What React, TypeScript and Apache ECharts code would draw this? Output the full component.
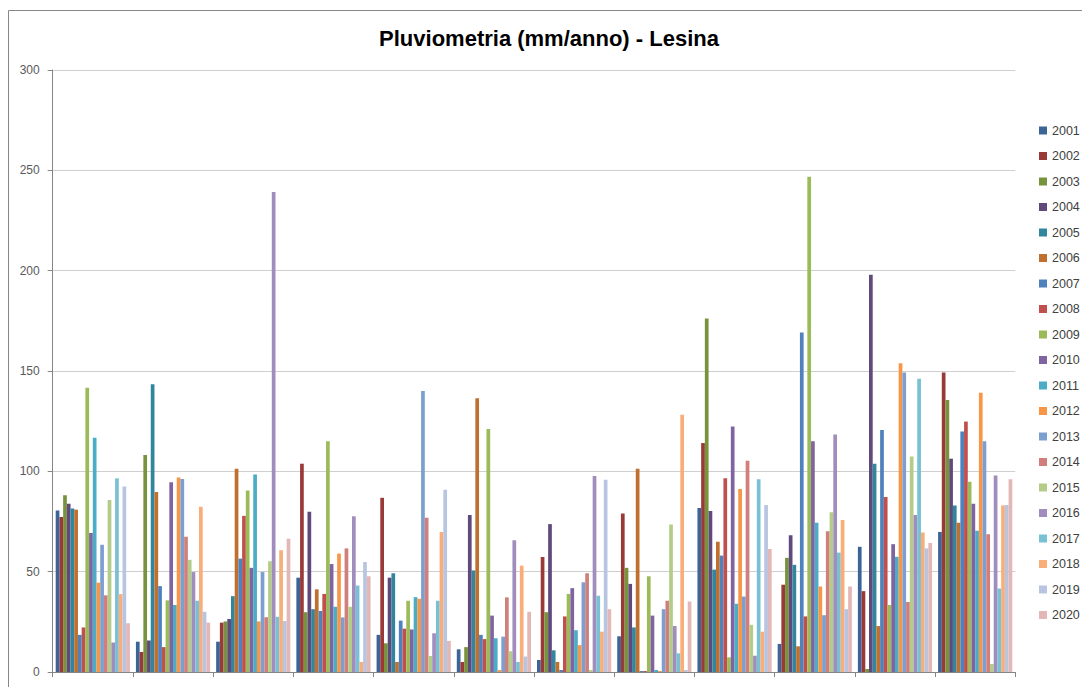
import React, { useEffect, useRef } from "react";
import * as echarts from "echarts";

const months = ["Gen", "Feb", "Mar", "Apr", "Mag", "Giu", "Lug", "Ago", "Set", "Ott", "Nov", "Dic"];
const yAxisTicks = [0, 50, 100, 150, 200, 250, 300];

const y2001 = [80.5, 15.1, 15.1, 47.0, 18.5, 11.3, 6.0, 17.8, 81.7, 14.0, 62.4, 69.8];
const y2002 = [77.3, 10.0, 24.6, 103.8, 86.8, 5.0, 57.3, 79.0, 114.1, 43.5, 40.3, 149.2];
const y2003 = [88.1, 108.2, 25.2, 29.8, 14.3, 12.4, 29.8, 51.9, 176.2, 56.9, 1.5, 135.6];
const y2004 = [83.9, 15.7, 26.4, 79.8, 47.0, 78.2, 73.7, 43.9, 80.2, 68.1, 198.0, 106.3];
const y2005 = [81.5, 143.4, 37.8, 31.3, 49.2, 50.6, 10.8, 22.2, 51.0, 53.4, 103.8, 83.0];
const y2006 = [80.9, 89.7, 101.3, 41.2, 5.0, 136.4, 5.0, 101.3, 64.9, 12.8, 22.9, 74.4];
const y2007 = [18.5, 42.8, 56.5, 30.4, 25.6, 18.5, 1.0, 0.5, 58.0, 169.2, 120.6, 119.8];
const y2008 = [22.2, 12.4, 77.8, 38.9, 21.6, 16.4, 27.7, 0.5, 96.5, 27.7, 87.2, 124.8];
const y2009 = [141.7, 35.7, 90.4, 115.0, 35.5, 121.1, 38.9, 47.7, 7.3, 246.8, 33.4, 94.8];
const y2010 = [69.3, 94.6, 51.9, 53.8, 21.2, 28.1, 41.8, 28.1, 122.3, 115.0, 63.7, 83.8];
const y2011 = [116.7, 33.4, 98.4, 32.5, 37.3, 16.8, 20.8, 1.0, 34.0, 74.4, 57.4, 70.4];
const y2012 = [44.5, 96.9, 25.2, 59.0, 36.5, 1.0, 13.4, 0.5, 91.2, 42.6, 153.9, 139.2];
const y2013 = [63.4, 96.2, 49.8, 27.2, 140.0, 17.6, 44.7, 31.3, 37.6, 28.3, 149.2, 115.0];
const y2014 = [38.2, 67.4, 27.3, 61.6, 76.9, 37.2, 49.2, 35.5, 105.3, 70.2, 34.9, 68.7];
const y2015 = [85.7, 55.9, 55.2, 32.5, 8.0, 10.3, 1.0, 73.5, 23.5, 79.6, 107.4, 4.0];
const y2016 = [14.7, 49.8, 239.2, 77.6, 19.3, 65.6, 97.7, 22.9, 8.1, 118.3, 78.2, 97.9];
const y2017 = [96.5, 35.5, 27.5, 43.1, 35.5, 5.0, 38.0, 9.3, 96.1, 59.5, 146.1, 41.6];
const y2018 = [38.8, 82.4, 60.7, 5.0, 69.8, 53.0, 20.1, 128.2, 20.1, 75.7, 69.5, 83.0];
const y2019 = [92.5, 30.0, 25.4, 54.8, 90.8, 7.7, 95.8, 1.0, 83.2, 31.3, 61.6, 83.2];
const y2020 = [24.3, 24.6, 66.4, 47.7, 15.5, 30.0, 31.3, 35.1, 61.3, 42.6, 64.3, 96.1];

const years = ["2001", "2002", "2003", "2004", "2005", "2006", "2007", "2008", "2009", "2010",
  "2011", "2012", "2013", "2014", "2015", "2016", "2017", "2018", "2019", "2020"];
const yearValues = [y2001, y2002, y2003, y2004, y2005, y2006, y2007, y2008, y2009, y2010,
  y2011, y2012, y2013, y2014, y2015, y2016, y2017, y2018, y2019, y2020];

const colors = [
  "#3c6496", "#9a3a38", "#77933c", "#604a7b", "#31859c", "#c0702e",
  "#4f81bd", "#c0504d", "#9bbb59", "#8064a2", "#4bacc6", "#f79646",
  "#7c9fd0", "#d07f7d", "#b3cd88", "#a08dbe", "#78c0d4", "#f9ae7a",
  "#b7c5e0", "#e2b7b6",
];

export default function App() {
  const ref = useRef<HTMLDivElement>(null);
  useEffect(() => {
    if (!ref.current) return;
    const chart = echarts.init(ref.current, undefined, { renderer: "svg" });
    const font = "'Liberation Sans', Arial, sans-serif";
    chart.setOption({
      animation: false,
      color: colors,
      title: {
        text: "Pluviometria (mm/anno) - Lesina",
        left: 544,
        top: 22,
        textAlign: "center",
        textStyle: { fontFamily: font, fontSize: 22, fontWeight: "bold", color: "#000000" },
      },
      legend: {
        orient: "vertical",
        left: 1034,
        top: 119,
        itemWidth: 8,
        itemHeight: 8,
        itemGap: 12.5,
        icon: "rect",
        data: years,
        textStyle: { fontFamily: font, fontSize: 12.5, color: "#404040" },
      },
      grid: { left: 52.7, right: 66.7, top: 70, bottom: 15, containLabel: false },
      xAxis: {
        type: "category",
        data: months,
        boundaryGap: true,
        axisLine: { show: true, lineStyle: { color: "#868686" } },
        axisTick: { show: true, length: 5, lineStyle: { color: "#868686" } },
        axisLabel: { show: false },
        splitLine: { show: false },
      },
      yAxis: {
        type: "value",
        min: yAxisTicks[0],
        max: yAxisTicks[yAxisTicks.length - 1],
        interval: 50,
        axisLine: { show: true, lineStyle: { color: "#868686" } },
        axisTick: { show: true, length: 5, lineStyle: { color: "#868686" } },
        axisLabel: { fontFamily: font, fontSize: 12, color: "#595959", margin: 13 },
        splitLine: { show: true, lineStyle: { color: "#cfcfcf" } },
      },
      graphic: [
        { type: "line", shape: { x1: 8.5, y1: 10.5, x2: 1082, y2: 10.5 }, style: { stroke: "#878787", lineWidth: 1 } },
        { type: "line", shape: { x1: 8.5, y1: 10.5, x2: 8.5, y2: 687 }, style: { stroke: "#878787", lineWidth: 1 } },
      ],
      series: years.map((y, i) => ({
        name: y,
        type: "bar",
        data: yearValues[i],
        barGap: "0%",
        barCategoryGap: "7.5%",
        itemStyle: { color: colors[i] },
      })),
    });
    return () => chart.dispose();
  }, []);
  return (
    <div
      ref={ref}
      style={{ position: "fixed", left: 0, top: 0, width: 1082, height: 687, background: "#ffffff" }}
    />
  );
}
